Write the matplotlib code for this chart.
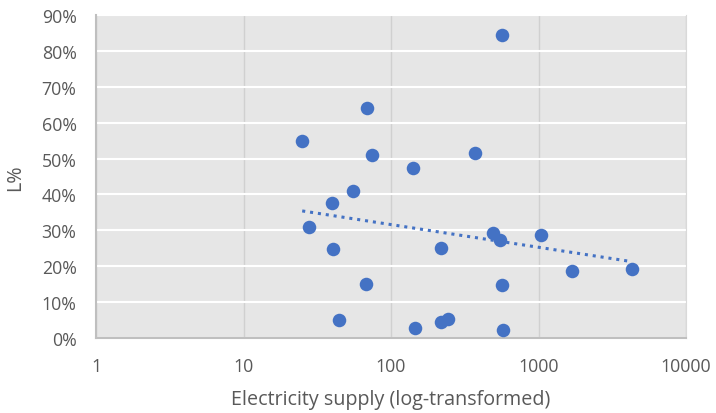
import numpy as np
import matplotlib
matplotlib.use("Agg")
import matplotlib.pyplot as plt
from matplotlib.ticker import FixedLocator, FuncFormatter

# Electricity supply (x) and L% share (y, fraction)
supply = [25, 69, 74, 141, 371, 566, 55, 40, 27.8, 40.4, 218, 490, 548,
          1040, 1690, 4300, 68, 566, 44.4, 145, 218, 243, 574]
share = [0.55, 0.64, 0.51, 0.473, 0.515, 0.845, 0.41, 0.377, 0.31, 0.248,
         0.25, 0.292, 0.272, 0.286, 0.188, 0.193, 0.15, 0.148, 0.05, 0.029,
         0.045, 0.054, 0.023]

x_ticks = [1, 10, 100, 1000, 10000]
y_ticks = [0, 0.1, 0.2, 0.3, 0.4, 0.5, 0.6, 0.7, 0.8, 0.9]

blue = "#4472C4"
text_grey = "#595959"

plt.rcParams["font.family"] = ["Open Sans", "DejaVu Sans"]

fig = plt.figure(figsize=(7.16, 4.14), dpi=100)
ax = fig.add_axes([96 / 716, 1 - 339 / 414, (686 - 96) / 716, (339 - 16) / 414])
ax.set_facecolor("#E6E6E6")

ax.set_xscale("log")
ax.set_xlim(1, 10000)
ax.set_ylim(0, 0.9)

ax.xaxis.set_major_locator(FixedLocator(x_ticks))
ax.xaxis.set_minor_locator(FixedLocator([]))
ax.xaxis.set_major_formatter(FuncFormatter(lambda v, p: f"{v:g}"))
ax.yaxis.set_major_locator(FixedLocator(y_ticks))
ax.yaxis.set_major_formatter(FuncFormatter(lambda v, p: f"{v * 100:.0f}%"))

ax.grid(axis="y", color="white", linewidth=1.5)
ax.grid(axis="x", color="#D0D0D0", linewidth=1.0)
ax.set_axisbelow(True)

ax.spines["top"].set_visible(False)
ax.spines["right"].set_color("#D9D9D9")
ax.spines["left"].set_color("#BFBFBF")
ax.spines["bottom"].set_color("#BFBFBF")
ax.spines["left"].set_linewidth(1.5)
ax.spines["bottom"].set_linewidth(1.5)

ax.tick_params(length=0, labelsize=12.8, colors=text_grey)
ax.tick_params(axis="y", pad=14)
ax.tick_params(axis="x", pad=14)

ax.scatter(supply, share, s=95, color=blue, zorder=3, linewidths=0)

# Logarithmic trendline: least squares on log10(x)
lx = np.log10(supply)
b, a = np.polyfit(lx, share, 1)
xt = np.logspace(lx.min(), lx.max(), 100)
ax.plot(xt, a + b * np.log10(xt), color=blue, linestyle=(0, (1, 1.6)),
        linewidth=2.2, zorder=2)

ax.set_xlabel("Electricity supply (log-transformed)", fontsize=14.2,
              color=text_grey, labelpad=10)
ax.set_ylabel("L%", fontsize=14.2, color=text_grey, labelpad=12)

fig.savefig("out.png", dpi=100)
